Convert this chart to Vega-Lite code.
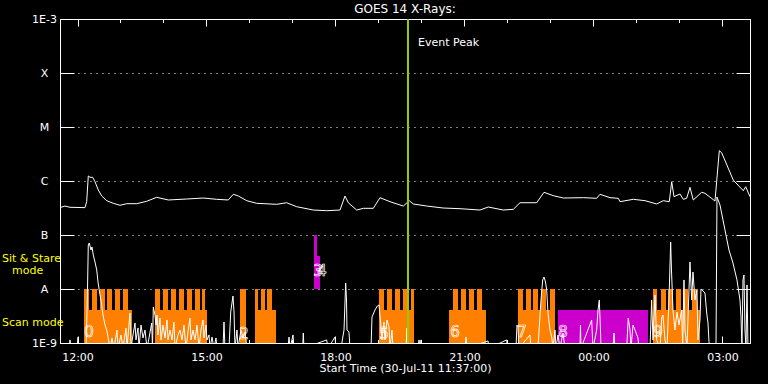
{
"$schema": "https://vega.github.io/schema/vega-lite/v6.json",
"width": 690, "height": 324,
"autosize": "none",
"padding": {"left": 60, "top": 19, "right": 18, "bottom": 41},
"background": "black",
"config": {"view": {"stroke": "white", "strokeWidth": 1}, "font": "DejaVu Sans"},
"title": {"text": "GOES 14 X-Rays:", "color": "white", "fontSize": 12, "fontWeight": "normal", "font": "DejaVu Sans", "anchor": "middle", "offset": -3},
"datasets": {
"modes": [
{"t0":12.151,"t1":13.267,"lo":1e-9,"hi":4.08e-9,"mode":"scan"},
{"t0":12.151,"t1":12.267,"lo":1e-9,"hi":1e-8,"mode":"scan"},
{"t0":12.337,"t1":12.453,"lo":1e-9,"hi":1e-8,"mode":"scan"},
{"t0":12.523,"t1":12.640,"lo":1e-9,"hi":1e-8,"mode":"scan"},
{"t0":12.686,"t1":12.802,"lo":1e-9,"hi":1e-8,"mode":"scan"},
{"t0":12.872,"t1":12.988,"lo":1e-9,"hi":1e-8,"mode":"scan"},
{"t0":13.058,"t1":13.174,"lo":1e-9,"hi":1e-8,"mode":"scan"},
{"t0":13.802,"t1":15.012,"lo":1e-9,"hi":4.08e-9,"mode":"scan"},
{"t0":13.802,"t1":13.919,"lo":1e-9,"hi":1e-8,"mode":"scan"},
{"t0":13.988,"t1":14.105,"lo":1e-9,"hi":1e-8,"mode":"scan"},
{"t0":14.174,"t1":14.291,"lo":1e-9,"hi":1e-8,"mode":"scan"},
{"t0":14.360,"t1":14.477,"lo":1e-9,"hi":1e-8,"mode":"scan"},
{"t0":14.547,"t1":14.663,"lo":1e-9,"hi":1e-8,"mode":"scan"},
{"t0":14.733,"t1":14.849,"lo":1e-9,"hi":1e-8,"mode":"scan"},
{"t0":14.895,"t1":14.965,"lo":1e-9,"hi":1e-8,"mode":"scan"},
{"t0":15.779,"t1":15.919,"lo":1e-9,"hi":1e-8,"mode":"scan"},
{"t0":16.128,"t1":16.616,"lo":1e-9,"hi":4.08e-9,"mode":"scan"},
{"t0":16.128,"t1":16.198,"lo":1e-9,"hi":1e-8,"mode":"scan"},
{"t0":16.267,"t1":16.360,"lo":1e-9,"hi":1e-8,"mode":"scan"},
{"t0":16.407,"t1":16.523,"lo":1e-9,"hi":1e-8,"mode":"scan"},
{"t0":17.500,"t1":17.570,"lo":1e-8,"hi":1e-7,"mode":"stare"},
{"t0":17.570,"t1":17.640,"lo":1e-8,"hi":4.08e-8,"mode":"stare"},
{"t0":19.012,"t1":19.826,"lo":1e-9,"hi":4.08e-9,"mode":"scan"},
{"t0":19.012,"t1":19.128,"lo":1e-9,"hi":1e-8,"mode":"scan"},
{"t0":19.198,"t1":19.314,"lo":1e-9,"hi":1e-8,"mode":"scan"},
{"t0":19.384,"t1":19.500,"lo":1e-9,"hi":1e-8,"mode":"scan"},
{"t0":19.570,"t1":19.686,"lo":1e-9,"hi":1e-8,"mode":"scan"},
{"t0":19.756,"t1":19.826,"lo":1e-9,"hi":1e-8,"mode":"scan"},
{"t0":20.640,"t1":21.500,"lo":1e-9,"hi":4.08e-9,"mode":"scan"},
{"t0":20.733,"t1":20.849,"lo":1e-9,"hi":1e-8,"mode":"scan"},
{"t0":20.919,"t1":21.035,"lo":1e-9,"hi":1e-8,"mode":"scan"},
{"t0":21.105,"t1":21.221,"lo":1e-9,"hi":1e-8,"mode":"scan"},
{"t0":21.291,"t1":21.407,"lo":1e-9,"hi":1e-8,"mode":"scan"},
{"t0":22.244,"t1":23.105,"lo":1e-9,"hi":4.08e-9,"mode":"scan"},
{"t0":22.244,"t1":22.360,"lo":1e-9,"hi":1e-8,"mode":"scan"},
{"t0":22.430,"t1":22.547,"lo":1e-9,"hi":1e-8,"mode":"scan"},
{"t0":22.593,"t1":22.709,"lo":1e-9,"hi":1e-8,"mode":"scan"},
{"t0":22.779,"t1":22.895,"lo":1e-9,"hi":1e-8,"mode":"scan"},
{"t0":22.988,"t1":23.105,"lo":1e-9,"hi":1e-8,"mode":"scan"},
{"t0":23.174,"t1":25.267,"lo":1e-9,"hi":4.08e-9,"mode":"stare"},
{"t0":25.384,"t1":26.477,"lo":1e-9,"hi":4.08e-9,"mode":"scan"},
{"t0":25.384,"t1":25.477,"lo":1e-9,"hi":1e-8,"mode":"scan"},
{"t0":25.570,"t1":25.686,"lo":1e-9,"hi":1e-8,"mode":"scan"},
{"t0":25.733,"t1":25.849,"lo":1e-9,"hi":1e-8,"mode":"scan"},
{"t0":25.919,"t1":26.035,"lo":1e-9,"hi":1e-8,"mode":"scan"},
{"t0":26.081,"t1":26.198,"lo":1e-9,"hi":1e-8,"mode":"scan"},
{"t0":26.291,"t1":26.407,"lo":1e-9,"hi":1e-8,"mode":"scan"}
],
"upper": [
{"t":11.616,"f":3.26e-7},{"t":11.709,"f":3.44e-7},{"t":11.826,"f":3.26e-7},{"t":12.174,"f":3.21e-7},{"t":12.214,"f":4.14e-7},{"t":12.251,"f":1.24e-6},{"t":12.291,"f":1.17e-6},{"t":12.353,"f":1.17e-6},{"t":12.407,"f":9.7e-7},{"t":12.484,"f":6.81e-7},{"t":12.563,"f":5.28e-7},{"t":12.679,"f":4.32e-7},{"t":12.833,"f":3.86e-7},{"t":12.988,"f":3.55e-7},{"t":13.144,"f":3.80e-7},{"t":13.377,"f":3.80e-7},{"t":13.609,"f":4.21e-7},{"t":13.842,"f":4.99e-7},{"t":14.112,"f":4.45e-7},{"t":14.540,"f":4.64e-7},{"t":14.926,"f":4.84e-7},{"t":15.237,"f":4.58e-7},{"t":15.507,"f":4.45e-7},{"t":15.623,"f":5.67e-7},{"t":15.740,"f":5.28e-7},{"t":15.935,"f":4.32e-7},{"t":16.167,"f":3.86e-7},{"t":16.633,"f":3.70e-7},{"t":16.865,"f":3.96e-7},{"t":17.098,"f":3.34e-7},{"t":17.484,"f":2.90e-7},{"t":17.795,"f":2.82e-7},{"t":18.105,"f":2.90e-7},{"t":18.221,"f":5.28e-7},{"t":18.298,"f":3.96e-7},{"t":18.493,"f":2.90e-7},{"t":18.647,"f":3.12e-7},{"t":18.879,"f":3.12e-7},{"t":19.035,"f":4.91e-7},{"t":19.267,"f":4.14e-7},{"t":19.577,"f":3.44e-7},{"t":19.716,"f":4.32e-7},{"t":19.809,"f":3.75e-7},{"t":20.121,"f":3.44e-7},{"t":20.507,"f":3.16e-7},{"t":20.895,"f":3.07e-7},{"t":21.360,"f":2.90e-7},{"t":21.553,"f":3.30e-7},{"t":21.902,"f":2.90e-7},{"t":22.135,"f":2.99e-7},{"t":22.291,"f":3.96e-7},{"t":22.679,"f":3.96e-7},{"t":22.849,"f":6.18e-7},{"t":23.065,"f":5.35e-7},{"t":23.298,"f":4.84e-7},{"t":23.763,"f":4.91e-7},{"t":24.074,"f":4.78e-7},{"t":24.151,"f":5.67e-7},{"t":24.384,"f":4.91e-7},{"t":24.577,"f":4.78e-7},{"t":24.616,"f":4.14e-7},{"t":24.926,"f":4.58e-7},{"t":25.198,"f":4.32e-7},{"t":25.470,"f":3.75e-7},{"t":25.623,"f":4.32e-7},{"t":25.763,"f":4.14e-7},{"t":25.819,"f":9.7e-7},{"t":25.872,"f":5.12e-7},{"t":26.012,"f":5.74e-7},{"t":26.088,"f":4.58e-7},{"t":26.167,"f":4.78e-7},{"t":26.244,"f":7.64e-7},{"t":26.321,"f":4.45e-7},{"t":26.516,"f":6.18e-7},{"t":26.593,"f":5.92e-7},{"t":26.826,"f":4.26e-7},{"t":26.926,"f":3.64e-6},{"t":26.981,"f":3.34e-6},{"t":27.251,"f":1.04e-6},{"t":27.484,"f":6.61e-7},{"t":27.540,"f":7.84e-7},{"t":27.640,"f":5.12e-7}
],
"lower": [
{"t":11.616,"f":8e-10},{"t":11.802,"f":8e-10},{"t":11.826,"f":1.14e-9},{"t":11.849,"f":8e-10},{"t":11.988,"f":8e-10},{"t":12.012,"f":1.29e-9},{"t":12.035,"f":8e-10},{"t":12.198,"f":8e-10},{"t":12.228,"f":6.26e-9},{"t":12.251,"f":6.53e-8},{"t":12.274,"f":7.11e-8},{"t":12.314,"f":5.27e-8},{"t":12.337,"f":6.00e-8},{"t":12.367,"f":4.26e-8},{"t":12.407,"f":3.16e-8},{"t":12.447,"f":2.25e-8},{"t":12.477,"f":1.35e-8},{"t":12.523,"f":7.74e-9},{"t":12.547,"f":6.26e-9},{"t":12.593,"f":3.30e-9},{"t":12.640,"f":2.15e-9},{"t":12.679,"f":1.74e-9},{"t":12.709,"f":1.29e-9},{"t":12.756,"f":8e-10},{"t":12.802,"f":1.24e-9},{"t":12.849,"f":8e-10},{"t":12.919,"f":1.74e-9},{"t":12.942,"f":8e-10},{"t":13.012,"f":1.41e-9},{"t":13.058,"f":8e-10},{"t":13.128,"f":1.90e-9},{"t":13.151,"f":8e-10},{"t":13.221,"f":3.59e-9},{"t":13.244,"f":8e-10},{"t":13.291,"f":1.41e-9},{"t":13.337,"f":2.35e-9},{"t":13.360,"f":1.14e-9},{"t":13.407,"f":1.90e-9},{"t":13.430,"f":8e-10},{"t":13.477,"f":2.15e-9},{"t":13.523,"f":1.24e-9},{"t":13.570,"f":1.74e-9},{"t":13.616,"f":8e-10},{"t":13.663,"f":1.24e-9},{"t":13.726,"f":2.35e-9},{"t":13.744,"f":8e-10},{"t":13.763,"f":4.64e-9},{"t":13.802,"f":3.30e-9},{"t":13.826,"f":2.15e-9},{"t":13.849,"f":3.30e-9},{"t":13.872,"f":1.41e-9},{"t":13.919,"f":2.90e-9},{"t":13.942,"f":1.14e-9},{"t":13.988,"f":2.15e-9},{"t":14.035,"f":1.24e-9},{"t":14.081,"f":2.67e-9},{"t":14.105,"f":1.14e-9},{"t":14.151,"f":1.74e-9},{"t":14.198,"f":1.14e-9},{"t":14.244,"f":2.45e-9},{"t":14.267,"f":8e-10},{"t":14.337,"f":1.41e-9},{"t":14.384,"f":1.74e-9},{"t":14.430,"f":1.14e-9},{"t":14.477,"f":2.15e-9},{"t":14.523,"f":8e-10},{"t":14.570,"f":1.60e-9},{"t":14.616,"f":2.90e-9},{"t":14.640,"f":1.14e-9},{"t":14.686,"f":1.74e-9},{"t":14.733,"f":1.14e-9},{"t":14.779,"f":2.15e-9},{"t":14.826,"f":8e-10},{"t":14.872,"f":1.74e-9},{"t":14.919,"f":2.67e-9},{"t":14.942,"f":1.24e-9},{"t":14.988,"f":2.15e-9},{"t":15.012,"f":1.14e-9},{"t":15.058,"f":1.41e-9},{"t":15.081,"f":8e-10},{"t":15.128,"f":1.29e-9},{"t":15.174,"f":8e-10},{"t":15.221,"f":1.24e-9},{"t":15.244,"f":8e-10},{"t":15.384,"f":8e-10},{"t":15.407,"f":2.45e-9},{"t":15.430,"f":8e-10},{"t":15.523,"f":8e-10},{"t":15.563,"f":3.75e-9},{"t":15.616,"f":7.42e-9},{"t":15.640,"f":3.75e-9},{"t":15.663,"f":8e-10},{"t":15.709,"f":1.74e-9},{"t":15.733,"f":8e-10},{"t":15.802,"f":1.74e-9},{"t":15.849,"f":1.24e-9},{"t":15.895,"f":1.60e-9},{"t":15.942,"f":8e-10},{"t":16.895,"f":8e-10},{"t":16.919,"f":1.29e-9},{"t":16.942,"f":8e-10},{"t":17.012,"f":1.41e-9},{"t":17.035,"f":8e-10},{"t":17.237,"f":8e-10},{"t":17.251,"f":1.53e-9},{"t":17.267,"f":8e-10},{"t":17.795,"f":1.14e-9},{"t":17.826,"f":8e-10},{"t":17.988,"f":1.29e-9},{"t":18.012,"f":8e-10},{"t":18.128,"f":8e-10},{"t":18.198,"f":1.74e-9},{"t":18.237,"f":1.29e-8},{"t":18.256,"f":6.26e-9},{"t":18.267,"f":1.74e-9},{"t":18.314,"f":1.60e-9},{"t":18.337,"f":8e-10},{"t":18.826,"f":8e-10},{"t":18.849,"f":3.03e-9},{"t":18.919,"f":4.08e-9},{"t":18.972,"f":4.84e-9},{"t":19.012,"f":5.06e-9},{"t":19.051,"f":2.35e-9},{"t":19.081,"f":1.14e-9},{"t":19.128,"f":2.45e-9},{"t":19.151,"f":1.14e-9},{"t":19.198,"f":2.67e-9},{"t":19.244,"f":1.98e-9},{"t":19.267,"f":8e-10},{"t":19.314,"f":1.74e-9},{"t":19.337,"f":8e-10},{"t":19.640,"f":8e-10},{"t":19.663,"f":1.90e-9},{"t":19.686,"f":8e-10},{"t":19.919,"f":8e-10},{"t":19.942,"f":1.14e-9},{"t":19.965,"f":8e-10},{"t":19.988,"f":1.14e-9},{"t":20.012,"f":8e-10},{"t":21.012,"f":8e-10},{"t":21.035,"f":1.29e-9},{"t":21.058,"f":8e-10},{"t":21.547,"f":1.09e-9},{"t":21.570,"f":8e-10},{"t":21.981,"f":1.14e-9},{"t":22.000,"f":8e-10},{"t":22.198,"f":8e-10},{"t":22.221,"f":2.15e-9},{"t":22.244,"f":1.98e-9},{"t":22.267,"f":8e-10},{"t":22.523,"f":1.41e-9},{"t":22.547,"f":8e-10},{"t":22.709,"f":8e-10},{"t":22.779,"f":6.26e-9},{"t":22.819,"f":1.47e-8},{"t":22.849,"f":1.67e-8},{"t":22.884,"f":1.35e-8},{"t":22.912,"f":9.58e-9},{"t":22.942,"f":3.59e-9},{"t":22.988,"f":1.74e-9},{"t":23.028,"f":1.29e-9},{"t":23.058,"f":8e-10},{"t":23.105,"f":1.74e-9},{"t":23.128,"f":8e-10},{"t":23.174,"f":1.41e-9},{"t":23.221,"f":8e-10},{"t":23.291,"f":1.53e-9},{"t":23.337,"f":8e-10},{"t":23.686,"f":8e-10},{"t":23.698,"f":2.15e-9},{"t":23.709,"f":8e-10},{"t":23.958,"f":2.67e-9},{"t":23.988,"f":8e-10},{"t":24.074,"f":1.74e-9},{"t":24.105,"f":4.08e-9},{"t":24.135,"f":6.26e-9},{"t":24.163,"f":1.74e-9},{"t":24.174,"f":8e-10},{"t":24.453,"f":8e-10},{"t":24.477,"f":1.53e-9},{"t":24.500,"f":8e-10},{"t":24.772,"f":8e-10},{"t":24.809,"f":2.90e-9},{"t":24.849,"f":1.74e-9},{"t":24.872,"f":8e-10},{"t":24.919,"f":2.15e-9},{"t":24.965,"f":1.74e-9},{"t":25.035,"f":1.24e-9},{"t":25.058,"f":8e-10},{"t":25.314,"f":8e-10},{"t":25.353,"f":6.26e-9},{"t":25.384,"f":1.14e-9},{"t":25.430,"f":7.74e-9},{"t":25.470,"f":1.14e-9},{"t":25.547,"f":8e-10},{"t":25.586,"f":2.90e-9},{"t":25.616,"f":3.30e-9},{"t":25.663,"f":1.14e-9},{"t":25.709,"f":8e-10},{"t":25.756,"f":6.26e-9},{"t":25.795,"f":7.42e-8},{"t":25.814,"f":2.25e-8},{"t":25.849,"f":4.08e-9},{"t":25.895,"f":1.74e-9},{"t":25.942,"f":3.75e-9},{"t":25.988,"f":2.15e-9},{"t":26.051,"f":4.08e-9},{"t":26.074,"f":8e-10},{"t":26.105,"f":1.47e-8},{"t":26.128,"f":1.74e-9},{"t":26.174,"f":8e-10},{"t":26.221,"f":9.58e-9},{"t":26.244,"f":3.16e-8},{"t":26.284,"f":6.26e-9},{"t":26.314,"f":2.06e-8},{"t":26.360,"f":6.26e-9},{"t":26.407,"f":9.58e-9},{"t":26.430,"f":1.14e-9},{"t":26.477,"f":2.67e-9},{"t":26.500,"f":1.0e-8},{"t":26.547,"f":9.18e-9},{"t":26.593,"f":8.43e-9},{"t":26.633,"f":3.59e-9},{"t":26.663,"f":2.35e-9},{"t":26.686,"f":1.06e-9},{"t":26.709,"f":8e-10},{"t":26.849,"f":8e-10},{"t":26.872,"f":5.06e-7},{"t":26.942,"f":3.59e-7},{"t":27.058,"f":1.24e-7},{"t":27.151,"f":5.27e-8},{"t":27.244,"f":3.03e-8},{"t":27.337,"f":1.47e-8},{"t":27.407,"f":6.26e-9},{"t":27.430,"f":3.16e-9},{"t":27.453,"f":8e-10},{"t":27.477,"f":1.47e-8},{"t":27.500,"f":1.82e-8},{"t":27.523,"f":1.74e-9},{"t":27.547,"f":8e-10},{"t":27.570,"f":1.19e-8},{"t":27.593,"f":8e-10},{"t":27.640,"f":8e-10}
],
"nums": [
{"t":12.267,"f":1.60e-9,"label":"0"},{"t":15.872,"f":1.47e-9,"label":"2"},{"t":17.593,"f":2.15e-8,"label":"3"},{"t":17.686,"f":2.15e-8,"label":"4"},{"t":19.128,"f":1.47e-9,"label":"5"},{"t":20.779,"f":1.60e-9,"label":"6"},{"t":22.337,"f":1.60e-9,"label":"7"},{"t":23.291,"f":1.60e-9,"label":"8"},{"t":25.500,"f":1.60e-9,"label":"9"}
],
"peak": [{"t":19.686,"f":3.6e-4,"label":"Event Peak"}],
"side": [
{"t":10.244,"f":3.59e-8,"label":"Sit & Stare"},{"t":10.477,"f":2.15e-8,"label":"mode"},{"t":10.244,"f":2.30e-9,"label":"Scan mode"}
]
},
"layer": [
{
"data": {"name": "modes"},
"mark": {"type": "rect"},
"encoding": {
"x": {"field": "t0", "type": "quantitative", "scale": {"domain": [11.593, 27.64], "nice": false, "zero": false},
 "axis": {"orient": "bottom", "values": [12,13,14,15,16,17,18,19,20,21,22,23,24,25,26,27],
  "labelExpr": "datum.value % 3 == 0 ? ((datum.value % 24 < 10 ? '0' : '') + (datum.value % 24) + ':00') : ''",
  "tickSize": {"condition": {"test": "datum.value % 3 == 0", "value": -7}, "value": -3.5},
  "labelPadding": 15, "labelColor": "white", "labelFontSize": 11, "labelFont": "DejaVu Sans", "labelFlush": false, "labelOverlap": false,
  "tickColor": "white", "domainColor": "white", "grid": false,
  "title": "Start Time (30-Jul-11 11:37:00)", "titleColor": "white", "titleFontWeight": "normal", "titleFontSize": 11, "titleFont": "DejaVu Sans", "titlePadding": -3}},
"x2": {"field": "t1"},
"y": {"field": "lo", "type": "quantitative", "scale": {"type": "log", "domain": [1e-9, 1e-3], "nice": false},
 "axis": {"orient": "left", "values": [1e-9,1e-8,1e-7,1e-6,1e-5,1e-4,1e-3],
  "labelExpr": "datum.value < 3e-9 ? '1E-9' : datum.value < 3e-8 ? 'A' : datum.value < 3e-7 ? 'B' : datum.value < 3e-6 ? 'C' : datum.value < 3e-5 ? 'M' : datum.value < 3e-4 ? 'X' : '1E-3'",
  "tickSize": -14, "labelAlign": "center", "labelBaseline": "middle", "labelPadding": 30, "labelColor": "white", "labelFontSize": 11, "labelFont": "DejaVu Sans",
  "tickColor": "white", "domainColor": "white",
  "grid": true, "gridColor": "white", "gridDash": [1,5], "gridOpacity": {"condition": {"test": "datum.value > 2e-9 && datum.value < 5e-4", "value": 1}, "value": 0},
  "title": null}},
"y2": {"field": "hi"},
"color": {"field": "mode", "type": "nominal", "scale": {"domain": ["scan","stare"], "range": ["#ff8000","#cc00cc"]}, "legend": null}
}
},
{
"data": {"name": "upper"},
"mark": {"type": "line", "color": "white", "strokeWidth": 1, "clip": true},
"encoding": {
"x": {"field": "t", "type": "quantitative", "scale": {"domain": [11.593, 27.64], "nice": false, "zero": false},
 "axis": {"orient": "top", "values": [12,13,14,15,16,17,18,19,20,21,22,23,24,25,26,27], "labels": false,
  "tickSize": {"condition": {"test": "datum.value % 3 == 0", "value": -7}, "value": -3.5},
  "tickColor": "white", "domainColor": "white", "grid": false, "title": null}},
"y": {"field": "f", "type": "quantitative", "scale": {"type": "log", "domain": [1e-9, 1e-3], "nice": false},
 "axis": {"orient": "right", "values": [1e-8,1e-7,1e-6,1e-5,1e-4], "labels": false, "tickSize": -14,
  "tickColor": "white", "domainColor": "white", "grid": false, "title": null}}
}
},
{
"data": {"name": "lower"},
"mark": {"type": "line", "color": "white", "strokeWidth": 1, "clip": true},
"encoding": {
"x": {"field": "t", "type": "quantitative", "scale": {"domain": [11.593, 27.64], "nice": false, "zero": false}, "axis": null},
"y": {"field": "f", "type": "quantitative", "scale": {"type": "log", "domain": [1e-9, 1e-3], "nice": false}, "axis": null}
}
},
{
"data": {"name": "peak"},
"mark": {"type": "rule", "color": "#99cc00", "strokeWidth": 2},
"encoding": {
"x": {"field": "t", "type": "quantitative", "scale": {"domain": [11.593, 27.64], "nice": false, "zero": false}, "axis": null}
}
},
{
"data": {"name": "peak"},
"mark": {"type": "text", "color": "white", "align": "left", "baseline": "middle", "dx": 10, "fontSize": 11, "font": "DejaVu Sans"},
"encoding": {
"x": {"field": "t", "type": "quantitative", "scale": {"domain": [11.593, 27.64], "nice": false, "zero": false}, "axis": null},
"y": {"field": "f", "type": "quantitative", "scale": {"type": "log", "domain": [1e-9, 1e-3], "nice": false}, "axis": null},
"text": {"field": "label"}
}
},
{
"data": {"name": "nums"},
"mark": {"type": "text", "fill": "transparent", "stroke": "white", "strokeWidth": 0.7, "align": "center", "baseline": "middle", "fontSize": 15, "font": "DejaVu Sans"},
"encoding": {
"x": {"field": "t", "type": "quantitative", "scale": {"domain": [11.593, 27.64], "nice": false, "zero": false}, "axis": null},
"y": {"field": "f", "type": "quantitative", "scale": {"type": "log", "domain": [1e-9, 1e-3], "nice": false}, "axis": null},
"text": {"field": "label"}
}
},
{
"data": {"name": "side"},
"mark": {"type": "text", "color": "#ffff00", "align": "left", "baseline": "middle", "fontSize": 11, "font": "DejaVu Sans"},
"encoding": {
"x": {"field": "t", "type": "quantitative", "scale": {"domain": [11.593, 27.64], "nice": false, "zero": false}, "axis": null},
"y": {"field": "f", "type": "quantitative", "scale": {"type": "log", "domain": [1e-9, 1e-3], "nice": false}, "axis": null},
"text": {"field": "label"}
}
}
],
"resolve": {"axis": {"x": "independent", "y": "independent"}}
}
